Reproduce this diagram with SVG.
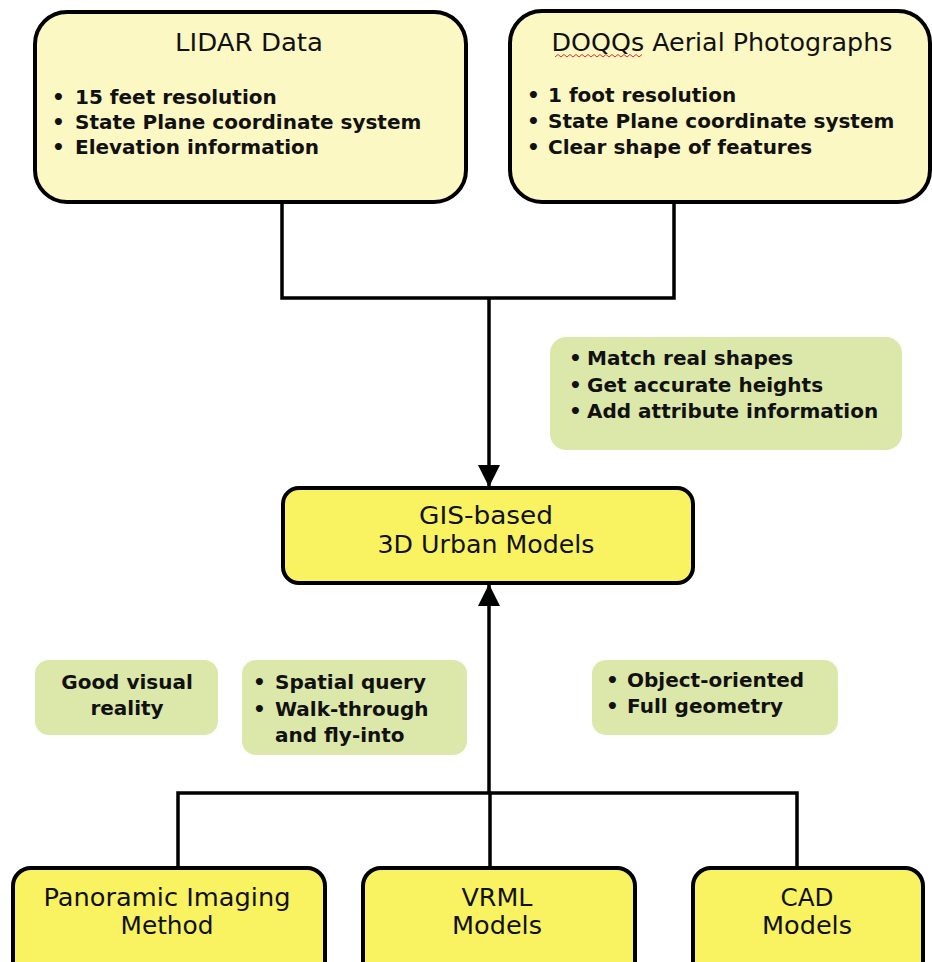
<svg xmlns="http://www.w3.org/2000/svg" width="932" height="962" viewBox="0 0 932 962">
  <style>
    .src { fill: #FCF8C4; stroke: #000; stroke-width: 4; }
    .model { fill: #F9F361; stroke: #000; stroke-width: 4; }
    .note { fill: #DCE8AA; stroke: none; }
    .title { font-family: "DejaVu Sans", Verdana, sans-serif; font-size: 24px; fill: #111; }
    .mid { text-anchor: middle; }
    .item { font-family: "DejaVu Sans", Verdana, sans-serif; font-size: 20px; font-weight: bold; fill: #111; }
    .wire { fill: none; stroke: #000; stroke-width: 3.5; stroke-linejoin: miter; }
  </style>
  <defs>
    <marker id="arrow" markerUnits="userSpaceOnUse" markerWidth="24" markerHeight="22" viewBox="0 0 24 22" refX="21" refY="11" orient="auto">
      <path d="M0 0 L22 11 L0 22 Z" fill="#000"/>
    </marker>
  </defs>
  <rect width="932" height="962" fill="#fff"/>

  <!-- connectors -->
  <g id="connectors">
    <path class="wire" d="M282 202 V298 H674 V202"/>
    <path class="wire" d="M489 298 V486" marker-end="url(#arrow)"/>
    <path class="wire" d="M178 868 V793 H797 V868"/>
    <path class="wire" d="M490 868 V793"/>
    <path class="wire" d="M489 793 V585" marker-end="url(#arrow)"/>
  </g>

  <!-- source data -->
  <g id="lidar">
    <rect class="src" x="35" y="12" width="431" height="190" rx="32"/>
    <text class="title mid" x="249" y="51" textLength="148" lengthAdjust="spacingAndGlyphs">LIDAR Data</text>
    <text class="item" y="104"><tspan x="52">•</tspan><tspan x="75">15 feet resolution</tspan></text>
    <text class="item" y="129"><tspan x="52">•</tspan><tspan x="75">State Plane coordinate system</tspan></text>
    <text class="item" y="154"><tspan x="52">•</tspan><tspan x="75">Elevation information</tspan></text>
  </g>

  <g id="dooqs">
    <rect class="src" x="510" y="11" width="420" height="191" rx="32"/>
    <text class="title mid" x="722" y="51" textLength="341" lengthAdjust="spacingAndGlyphs">DOQQs Aerial Photographs</text>
    <path d="M555 57 l3 -2.5 l3 2.5 l3 -2.5 l3 2.5 l3 -2.5 l3 2.5 l3 -2.5 l3 2.5 l3 -2.5 l3 2.5 l3 -2.5 l3 2.5 l3 -2.5 l3 2.5 l3 -2.5 l3 2.5 l3 -2.5 l3 2.5 l3 -2.5 l3 2.5 l3 -2.5 l3 2.5 l3 -2.5 l3 2.5 l3 -2.5 l3 2.5 l3 -2.5 l3 2.5 l3 -2.5" fill="none" stroke="#E03030" stroke-width="1"/>
    <text class="item" y="102"><tspan x="527">•</tspan><tspan x="548">1 foot resolution</tspan></text>
    <text class="item" y="128"><tspan x="527">•</tspan><tspan x="548">State Plane coordinate system</tspan></text>
    <text class="item" y="154"><tspan x="527">•</tspan><tspan x="548">Clear shape of features</tspan></text>
  </g>

  <g id="processing-notes">
    <rect class="note" x="550" y="337" width="352" height="113" rx="16"/>
    <text class="item" y="365"><tspan x="569">•</tspan><tspan x="587">Match real shapes</tspan></text>
    <text class="item" y="392"><tspan x="569">•</tspan><tspan x="587">Get accurate heights</tspan></text>
    <text class="item" y="418"><tspan x="569">•</tspan><tspan x="587">Add attribute information</tspan></text>
  </g>

  <!-- central model -->
  <g id="gis-models">
    <rect class="model" x="283" y="488" width="410" height="95" rx="16"/>
    <text class="title mid" x="486" y="524" textLength="134" lengthAdjust="spacingAndGlyphs">GIS-based</text>
    <text class="title mid" x="486" y="553" textLength="217" lengthAdjust="spacingAndGlyphs">3D Urban Models</text>
  </g>

  <!-- strengths of each approach -->
  <g id="note-visual">
    <rect class="note" x="35" y="660" width="183" height="75" rx="14"/>
    <text class="item mid" x="127" y="689">Good visual</text>
    <text class="item mid" x="127" y="715">reality</text>
  </g>

  <g id="note-vrml">
    <rect class="note" x="242" y="660" width="225" height="95" rx="14"/>
    <text class="item" y="689"><tspan x="253">•</tspan><tspan x="275">Spatial query</tspan></text>
    <text class="item" y="716"><tspan x="253">•</tspan><tspan x="275">Walk-through</tspan></text>
    <text class="item" y="742"><tspan x="275">and fly-into</tspan></text>
  </g>

  <g id="note-cad">
    <rect class="note" x="592" y="660" width="246" height="75" rx="14"/>
    <text class="item" y="687"><tspan x="606">•</tspan><tspan x="627">Object-oriented</tspan></text>
    <text class="item" y="713"><tspan x="606">•</tspan><tspan x="627">Full geometry</tspan></text>
  </g>

  <!-- modelling methods -->
  <g id="panoramic">
    <rect class="model" x="13" y="868" width="312" height="120" rx="18"/>
    <text class="title mid" x="167" y="906" textLength="247" lengthAdjust="spacingAndGlyphs">Panoramic Imaging</text>
    <text class="title mid" x="167" y="934" textLength="93" lengthAdjust="spacingAndGlyphs">Method</text>
  </g>

  <g id="vrml">
    <rect class="model" x="363" y="868" width="272" height="120" rx="18"/>
    <text class="title mid" x="497" y="906" textLength="71" lengthAdjust="spacingAndGlyphs">VRML</text>
    <text class="title mid" x="497" y="934" textLength="90" lengthAdjust="spacingAndGlyphs">Models</text>
  </g>

  <g id="cad">
    <rect class="model" x="693" y="868" width="230" height="120" rx="18"/>
    <text class="title mid" x="807" y="906" textLength="53" lengthAdjust="spacingAndGlyphs">CAD</text>
    <text class="title mid" x="807" y="934" textLength="90" lengthAdjust="spacingAndGlyphs">Models</text>
  </g>
</svg>
